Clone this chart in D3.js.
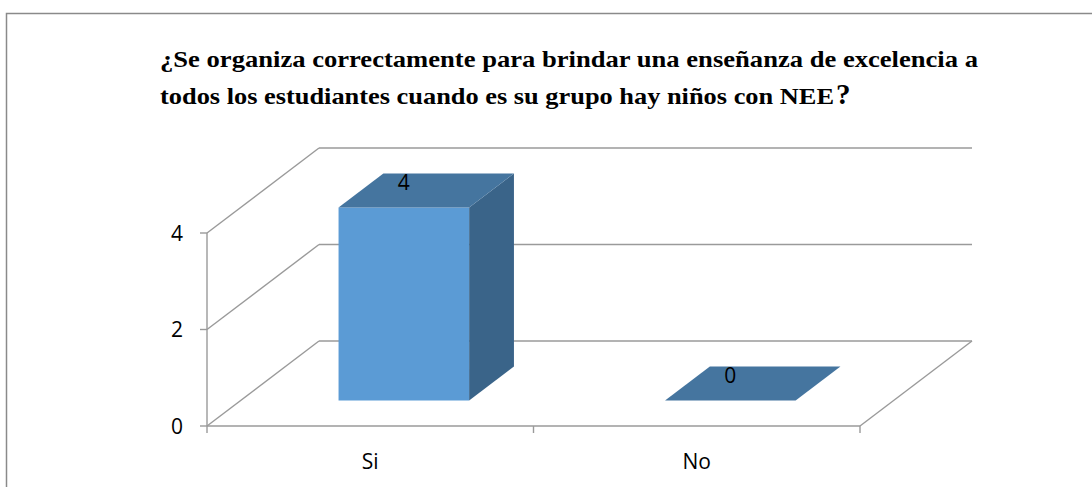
<!DOCTYPE html>
<html>
<head>
<meta charset="utf-8">
<script src="https://d3js.org/d3.v7.min.js"></script>
<style>
  body { margin: 0; background: #fff; }
  svg { display: block; }
  .grid { stroke: #9a9a9a; stroke-width: 1.4; fill: none; }
  .lbl { font-family: 'Open Sans', sans-serif; font-size: 21px; fill: #000; }
  .title { font-family: 'Liberation Serif', 'Times New Roman', serif; font-weight: bold; font-size: 24px; fill: #000; }
</style>
</head>
<body>
<svg id="chart" width="1092" height="487"></svg>
<script>
// data
var categories = ["Si", "No"];
var values = [4, 0];
var yTicks = [0, 2, 4];
var titleLines = ["¿Se organiza correctamente para brindar una enseñanza de excelencia a",
                  "todos los estudiantes cuando es su grupo hay niños con NEE"];

var svg = d3.select("#chart");

// outer chart frame (continues past the window)
svg.append("rect")
  .attr("x", 6.5).attr("y", 13.5)
  .attr("width", 1300).attr("height", 700)
  .attr("fill", "none")
  .attr("stroke", "#8a8a8a")
  .attr("stroke-width", 1.5);

// title
svg.append("text").attr("class", "title")
  .attr("x", 160).attr("y", 67)
  .attr("textLength", 818).attr("lengthAdjust", "spacingAndGlyphs")
  .text(titleLines[0]);
svg.append("text").attr("class", "title")
  .attr("x", 160).attr("y", 104)
  .attr("textLength", 674).attr("lengthAdjust", "spacingAndGlyphs")
  .text(titleLines[1]);
svg.append("text").attr("class", "title")
  .attr("x", 836).attr("y", 104)
  .style("font-size", "29px")
  .text("?");

// scales (front plane) + depth vector
var x = d3.scaleBand().domain(categories).range([207, 860]);
var y = d3.scaleLinear().domain([0, 4]).range([426, 233]);
var dx = 112, dy = -85;
var z0 = 0.3, z1 = 0.7;   // bar depth span
function P(px, v, z) { return [px + z * dx, y(v) + z * dy]; }

var xl = x.range()[0], xr = x.range()[1];

// back wall gridlines
svg.selectAll(".back").data(yTicks).enter().append("line")
  .attr("class", "grid")
  .attr("x1", xl + dx).attr("x2", xr + dx)
  .attr("y1", function(d) { return y(d) + dy; })
  .attr("y2", function(d) { return y(d) + dy; });

// side wall diagonals
svg.selectAll(".side").data(yTicks).enter().append("line")
  .attr("class", "grid")
  .attr("x1", xl).attr("y1", function(d) { return y(d); })
  .attr("x2", xl + dx).attr("y2", function(d) { return y(d) + dy; });

// floor right edge
svg.append("line").attr("class", "grid")
  .attr("x1", xr).attr("y1", y(0))
  .attr("x2", xr + dx).attr("y2", y(0) + dy);

// front axes
svg.append("line").attr("class", "grid")
  .attr("x1", xl).attr("x2", xl).attr("y1", y(4)).attr("y2", y(0));
svg.append("line").attr("class", "grid")
  .attr("x1", xl).attr("x2", xr).attr("y1", y(0)).attr("y2", y(0));

// y ticks + labels
svg.selectAll(".ytick").data(yTicks).enter().append("line")
  .attr("class", "grid")
  .attr("x1", xl - 7).attr("x2", xl)
  .attr("y1", function(d) { return y(d); })
  .attr("y2", function(d) { return y(d); });
svg.selectAll(".ylbl").data(yTicks).enter().append("text")
  .attr("class", "lbl")
  .attr("x", xl - 24)
  .attr("y", function(d) { return y(d); })
  .attr("dy", "0.36em")
  .attr("text-anchor", "end")
  .text(function(d) { return d; });

// category ticks + labels
var xTickPos = categories.map(function(c) { return x(c); }).concat([xr]);
svg.selectAll(".xtick").data(xTickPos).enter().append("line")
  .attr("class", "grid")
  .attr("x1", function(d) { return d; }).attr("x2", function(d) { return d; })
  .attr("y1", y(0)).attr("y2", y(0) + 7);
svg.selectAll(".xlbl").data(categories).enter().append("text")
  .attr("class", "lbl")
  .attr("x", function(d) { return x(d) + x.bandwidth() / 2; })
  .attr("y", 469)
  .attr("text-anchor", "middle")
  .text(function(d) { return d; });

// 3d bars
var bw = x.bandwidth();
categories.forEach(function(c, i) {
  var v = values[i];
  var a = x(c) + bw * 0.3, b = x(c) + bw * 0.7;
  var front = [P(a, 0, z0), P(b, 0, z0), P(b, v, z0), P(a, v, z0)];
  var side = [P(b, 0, z0), P(b, 0, z1), P(b, v, z1), P(b, v, z0)];
  var top = [P(a, v, z0), P(b, v, z0), P(b, v, z1), P(a, v, z1)];
  if (v > 0) {
    svg.append("polygon").attr("points", front.join(" ")).attr("fill", "#5B9BD5");
    svg.append("polygon").attr("points", side.join(" ")).attr("fill", "#3A6489");
  }
  svg.append("polygon").attr("points", top.join(" ")).attr("fill", "#45759F");

  var lp = P(x(c) + bw / 2, v, z0);
  svg.append("text").attr("class", "lbl")
    .attr("x", lp[0])
    .attr("y", P(0, v, z1)[1] + 16)
    .attr("text-anchor", "middle")
    .text(v);
});
</script>
</body>
</html>
